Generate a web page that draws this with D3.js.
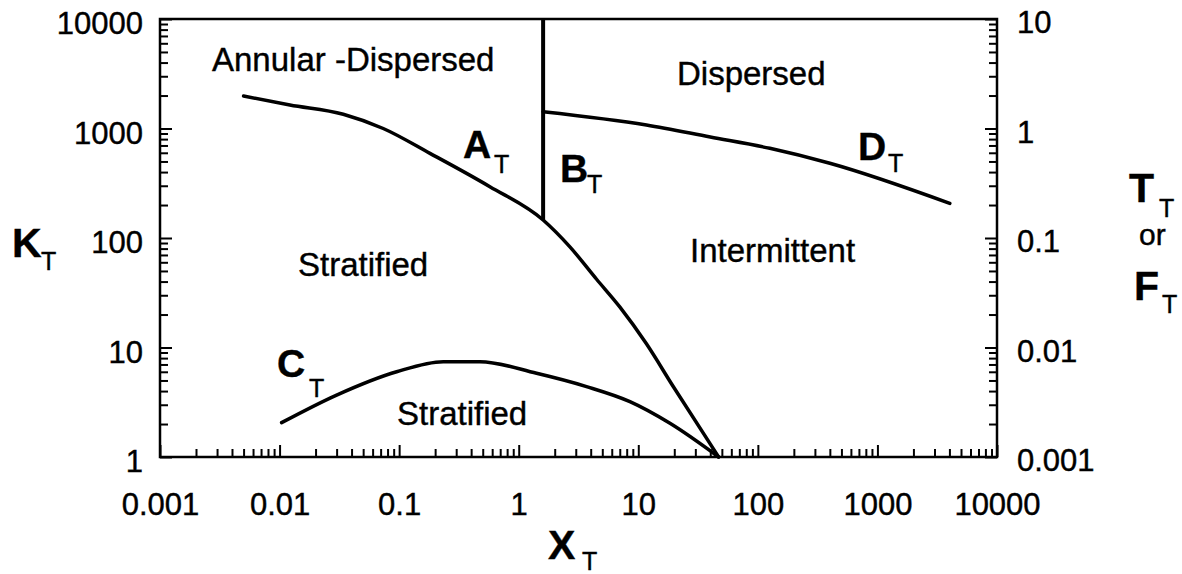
<!DOCTYPE html>
<html>
<head>
<meta charset="utf-8">
<script src="https://cdn.jsdelivr.net/npm/d3@7"></script>
<style>
  html, body { margin: 0; padding: 0; background: #fff; overflow: hidden; }
  svg { display: block; }
  svg text { font-family: "Liberation Sans", Arial, Helvetica, sans-serif; fill: #000; stroke: #000; stroke-width: 0.4px; }
</style>
</head>
<body>
<div id="chart"></div>
<script>
/* global d3 */

// tick values / labels
var xTicks = [0.001, 0.01, 0.1, 1, 10, 100, 1000, 10000];
var xTickLabels = ["0.001", "0.01", "0.1", "1", "10", "100", "1000", "10000"];
var kTicks = [1, 10, 100, 1000, 10000];
var kTickLabels = ["1", "10", "100", "1000", "10000"];
var tfTicks = [0.001, 0.01, 0.1, 1, 10];
var tfTickLabels = ["0.001", "0.01", "0.1", "1", "10"];

// boundary A_T (continues below B_T down to the axis)
var aX = [0.005, 0.0122, 0.0341, 0.0736, 0.181, 0.574, 1.6, 2.68, 4.48, 7.0, 11.7, 19.6, 47];
var aK = [1980, 1640, 1350, 1000, 593, 294, 146, 83, 42, 23.5, 10.8, 4.4, 1];

// boundary B_T (vertical)
var bX = [1.6, 1.6];
var bK = [146, 10000];

// boundary C_T
var cX = [0.0104, 0.030, 0.0953, 0.234, 0.474, 1.41, 3.69, 8.51, 18.4, 47];
var cK = [2.06, 3.68, 6.01, 7.42, 7.42, 5.81, 4.39, 3.2, 2.03, 1];

// boundary D_T
var dX = [1.6, 11.7, 40, 126, 400, 4030];
var dK = [1423, 1076, 836, 659, 481, 207];

var regionNames = ["Annular -Dispersed", "Dispersed", "Stratified", "Intermittent", "Stratified"];

var width = 1182,
	height = 574,
	margin = {top: 19, right: 185, bottom: 117, left: 160},
	innerWidth = width - margin.left - margin.right,
	innerHeight = height - margin.top - margin.bottom;

var xScale = d3.scaleLog().domain([0.001, 10000]).range([0, innerWidth]);
var yScale = d3.scaleLog().domain([1, 10000]).range([innerHeight, 0]);
var y2Scale = d3.scaleLog().domain([0.001, 10]).range([innerHeight, 0]);

var svg = d3.select("#chart").append("svg")
	.attr("width", width)
	.attr("height", height);

var g = svg.append("g")
	.attr("transform", "translate(" + margin.left + "," + margin.top + ")");

function minorTicks(scale) {
	var d = scale.domain(), out = [];
	for (var e = Math.round(Math.log10(d[0])); e < Math.round(Math.log10(d[1])); e++) {
		for (var m = 2; m <= 9; m++) out.push(m * Math.pow(10, e));
	}
	return out;
}

function styleAxis(sel) {
	sel.select(".domain").remove();
	sel.selectAll("line").attr("stroke", "#000").attr("stroke-width", 2);
	sel.selectAll("text").style("font-size", "31px");
}

function minorAxis(sel) {
	styleAxis(sel);
	sel.selectAll("text").remove();
}

// minor ticks
g.append("g").attr("transform", "translate(0," + innerHeight + ")")
	.call(d3.axisBottom(xScale).tickValues(minorTicks(xScale)).tickSize(-8).tickFormat(""))
	.call(minorAxis);
g.append("g")
	.call(d3.axisLeft(yScale).tickValues(minorTicks(yScale)).tickSize(-8).tickFormat(""))
	.call(minorAxis);
g.append("g").attr("transform", "translate(" + innerWidth + ",0)")
	.call(d3.axisRight(y2Scale).tickValues(minorTicks(y2Scale)).tickSize(-8).tickFormat(""))
	.call(minorAxis);

// major ticks + labels
g.append("g").attr("transform", "translate(0," + innerHeight + ")")
	.call(d3.axisBottom(xScale).tickValues(xTicks).tickSize(-12).tickPadding(36)
		.tickFormat(function(d, i) { return xTickLabels[i]; }))
	.call(styleAxis);

var left = g.append("g")
	.call(d3.axisLeft(yScale).tickValues(kTicks).tickSize(-12).tickPadding(17)
		.tickFormat(function(d, i) { return kTickLabels[i]; }))
	.call(styleAxis);
left.selectAll("text").attr("dy", "0.48em");

var right = g.append("g").attr("transform", "translate(" + innerWidth + ",0)")
	.call(d3.axisRight(y2Scale).tickValues(tfTicks).tickSize(-12).tickPadding(20)
		.tickFormat(function(d, i) { return tfTickLabels[i]; }))
	.call(styleAxis);
right.selectAll("text").attr("dy", "0.45em");

// frame
g.append("rect")
	.attr("width", innerWidth)
	.attr("height", innerHeight)
	.attr("fill", "none")
	.attr("stroke", "#000")
	.attr("stroke-width", 2.5);

// boundary curves
var line = d3.line()
	.x(function(d) { return xScale(d[0]); })
	.y(function(d) { return yScale(d[1]); })
	.curve(d3.curveMonotoneX);

var vline = d3.line()
	.x(function(d) { return xScale(d[0]); })
	.y(function(d) { return yScale(d[1]); });

[[aX, aK], [cX, cK], [dX, dK]].forEach(function(s) {
	g.append("path")
		.datum(d3.zip(s[0], s[1]))
		.attr("fill", "none")
		.attr("stroke", "#000")
		.attr("stroke-width", 3.5)
		.attr("stroke-linejoin", "round")
		.attr("stroke-linecap", "round")
		.attr("d", line);
});

g.append("path")
	.datum(d3.zip(bX, bK))
	.attr("fill", "none")
	.attr("stroke", "#000")
	.attr("stroke-width", 4)
	.attr("d", vline);

// region names
var regionPos = [[212, 71], [677, 85], [298, 276], [690, 262], [397, 425]];
svg.selectAll(".region")
	.data(regionNames)
	.enter().append("text")
	.attr("class", "region")
	.attr("x", function(d, i) { return regionPos[i][0]; })
	.attr("y", function(d, i) { return regionPos[i][1]; })
	.style("font-size", "33px")
	.text(function(d) { return d; });

// symbol with subscript T
function symbol(letter, x, y, sx, sy, size) {
	svg.append("text")
		.attr("x", x).attr("y", y)
		.style("font-size", (size || 39) + "px")
		.style("font-weight", "bold")
		.text(letter);
	svg.append("text")
		.attr("x", sx).attr("y", sy)
		.style("font-size", "25px")
		.text("T");
}

symbol("A", 463, 158, 494, 173);
symbol("B", 560, 182, 587, 193);
symbol("C", 277, 377, 309, 397);
symbol("D", 858, 160, 888, 172);

symbol("K", 12, 257, 41, 270, 41);
symbol("X", 548, 559, 582, 570, 41);
symbol("T", 1129, 202, 1159, 217, 41);
symbol("F", 1134, 300, 1162, 313, 41);

svg.append("text")
	.attr("x", 1139).attr("y", 245)
	.style("font-size", "30px")
	.text("or");
</script>
</body>
</html>
